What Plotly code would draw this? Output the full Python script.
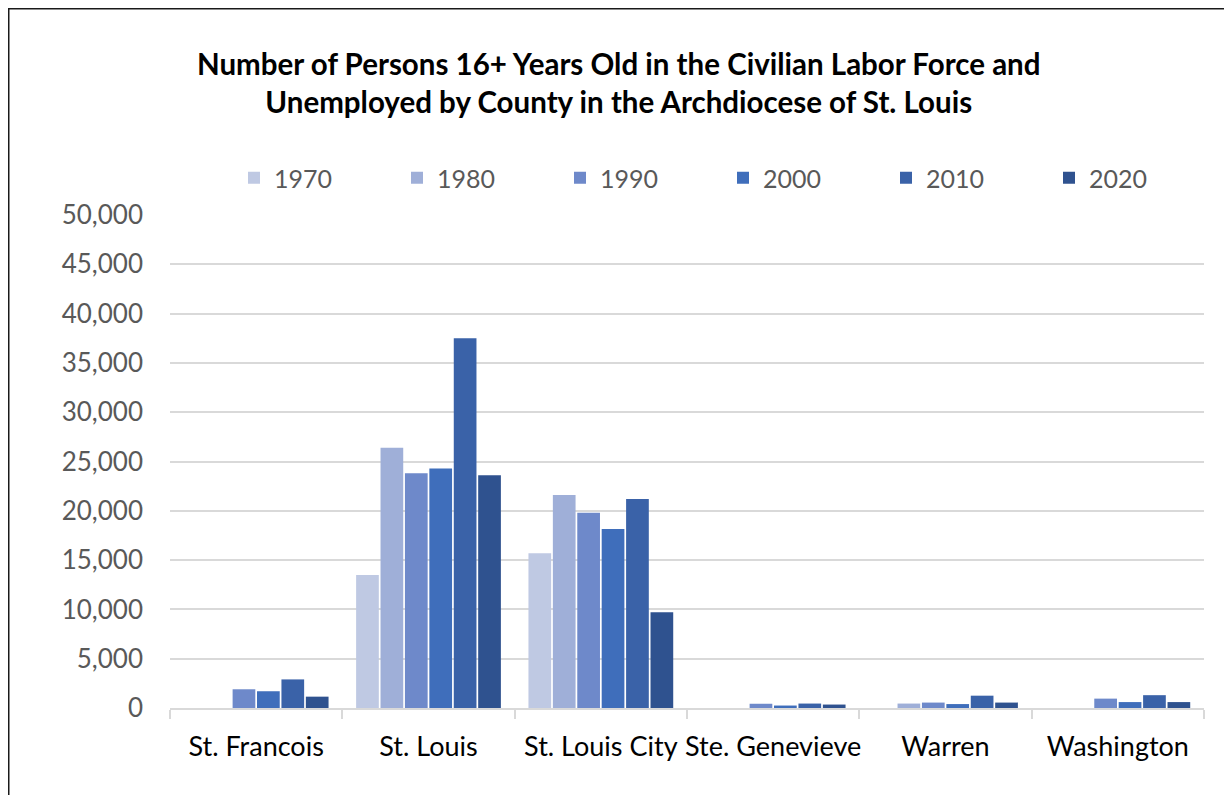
import plotly.graph_objects as go

counties = ["St. Francois", "St. Louis", "St. Louis City", "Ste. Genevieve", "Warren", "Washington"]
years = ["1970", "1980", "1990", "2000", "2010", "2020"]

v1970 = [None, 13500, 15700, None, None, None]
v1980 = [None, 26400, 21600, None, 450, None]
v1990 = [1900, 23800, 19800, 430, 550, 950]
v2000 = [1700, 24300, 18150, 250, 400, 600]
v2010 = [2900, 37500, 21200, 450, 1250, 1300]
v2020 = [1150, 23600, 9700, 350, 550, 600]

series = [v1970, v1980, v1990, v2000, v2010, v2020]
colors = ["#BFC9E3", "#9FAFD8", "#6E89CA", "#3F6EBB", "#3A62A8", "#2F528F"]

fig = go.Figure()
for name, vals, col in zip(years, series, colors):
    fig.add_trace(go.Bar(name=name, x=counties, y=vals, marker=dict(color=col, line=dict(width=0))))

# page body has an 8px margin: figure coords = screen coords - 8
OFF = 8
W, H = 1224, 787
L, R, T, B = 170 - OFF, W - (1204 - OFF), 215 - OFF, H - (708 - OFF)
pw, ph = W - L - R, H - T - B

def px(x):  # screen x -> paper
    return (x - OFF - L) / pw

def py(y):  # screen y -> paper
    return (H - B - (y - OFF)) / ph

fig.update_layout(
    width=W, height=H, autosize=False,
    margin=dict(l=L, r=R, t=T, b=B, autoexpand=False),
    paper_bgcolor="white", plot_bgcolor="white",
    barmode="group", bargap=0.15, bargroupgap=0.07,
    font=dict(family="Lato, Open Sans, sans-serif", color="#595959", size=22),
    legend=dict(orientation="h", x=px(1212), xanchor="right", y=py(178), yanchor="middle",
                entrywidth=118, entrywidthmode="pixels", font=dict(size=25, color="#595959"),
                itemsizing="constant", bgcolor="rgba(0,0,0,0)", borderwidth=0),
    showlegend=True,
    annotations=[dict(text="<b>Number of Persons 16+ Years Old in the Civilian Labor Force and<br>Unemployed by County in the Archdiocese of St. Louis</b>",
                      x=px(618), y=py(83), xref="paper", yref="paper", xanchor="center", yanchor="middle",
                      showarrow=False, font=dict(size=29.5, color="black", family="Lato, Open Sans, sans-serif"),
                      align="center")],
    shapes=[dict(type="rect", xref="paper", yref="paper", x0=px(8.5), x1=px(1260), y0=py(830), y1=py(8.5),
                 line=dict(color="#1a1a1a", width=2), fillcolor="rgba(0,0,0,0)", layer="above")],
)

fig.update_yaxes(range=[0, 50000], dtick=5000, tickformat=",", showgrid=True, gridcolor="#D9D9D9", gridwidth=1.5,
                 zeroline=False, showline=False, ticks="", ticklabelstandoff=26, automargin=False,
                 tickfont=dict(size=26, color="#595959"))
fig.update_xaxes(showline=True, linecolor="#D9D9D9", linewidth=1.5, ticks="outside", tickson="boundaries",
                 ticklen=9, tickcolor="#D9D9D9", tickwidth=1.5, ticklabelstandoff=14, tickangle=0,
                 automargin=False, tickfont=dict(size=27, color="black"))

fig.write_html("out.html")
